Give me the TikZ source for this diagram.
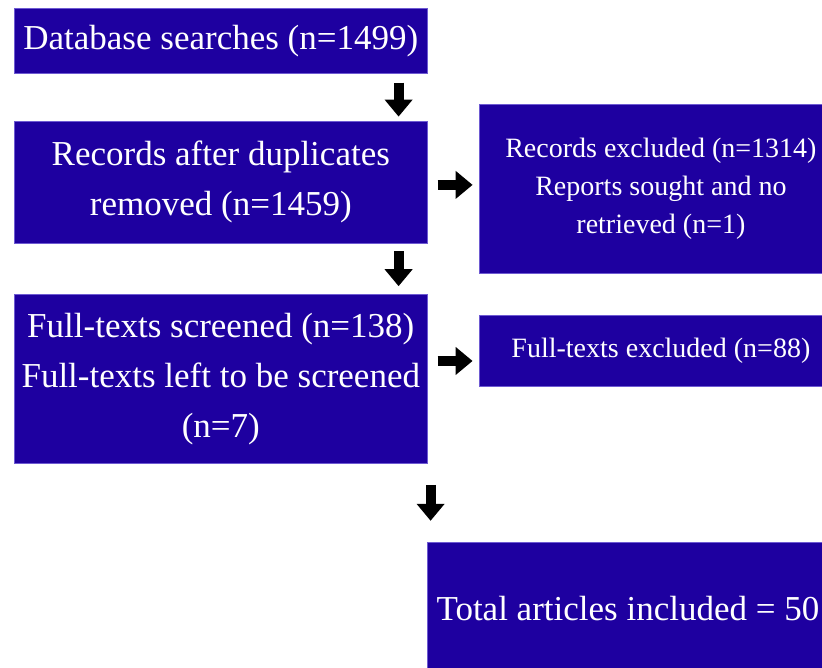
\documentclass[tikz,border=0pt]{standalone}
\usepackage{fontspec}
\setmainfont{Liberation Serif}
\usepackage{xcolor}
\usetikzlibrary{positioning,arrows.meta}

\definecolor{prismablue}{RGB}{30,0,160}
\definecolor{prismaedge}{RGB}{110,90,210}

\begin{document}
\begin{tikzpicture}[
    x=1pt, y=1pt,
    bigbox/.style={rectangle, fill=prismablue, draw=prismaedge, line width=0.6pt, text=white,
        minimum width=413pt, inner sep=0pt, align=center, font=\fontsize{35}{50}\selectfont},
    sidebox/.style={rectangle, fill=prismablue, draw=prismaedge, line width=0.6pt, text=white,
        minimum width=364pt, inner sep=0pt, align=center, font=\fontsize{28}{38}\selectfont},
    flow/.style={-{Triangle[length=17pt,width=27pt]}, line width=10pt, black}
]
    \useasboundingbox (0,0) rectangle (822,668);
    \clip (0,0) rectangle (822,668);

    \node[bigbox, minimum height=65pt, anchor=north west] (db) at (14,660) {Database searches (n=1499)};
    \node[bigbox, minimum height=122pt, below=47pt of db] (rec) {Records after duplicates\\removed (n=1459)};
    \node[bigbox, minimum height=169pt, below=51pt of rec] (full) {Full-texts screened (n=138)\\Full-texts left to be screened\\(n=7)};
    \node[sidebox, minimum height=169pt, right=51pt of rec, yshift=-6.5pt] (excl) {Records excluded (n=1314)\\Reports sought and no\\retrieved (n=1)};
    \node[sidebox, minimum height=71pt, right=51pt of full, yshift=28pt] (ftex) {Full-texts excluded (n=88)};
    \node[bigbox, minimum width=402pt, minimum height=132pt, below right=78pt and -1pt of full] (tot) {Total articles included = 50};

    \draw[flow, shorten <=9pt, shorten >=4pt] ([xshift=-29pt]db.south east) -- ([xshift=-29pt]rec.north east);
    \draw[flow, shorten <=10pt, shorten >=6pt] ([yshift=-3pt]rec.east) -- ([yshift=-3pt]rec.east -| excl.west);
    \draw[flow, shorten <=8pt, shorten >=8pt] ([xshift=-29pt]rec.south east) -- ([xshift=-29pt]full.north east);
    \draw[flow, shorten <=10pt, shorten >=6pt] ([yshift=-10pt]full.east |- ftex.west) -- ([yshift=-10pt]ftex.west);
    \draw[flow, shorten <=21pt, shorten >=21pt] ([xshift=4pt]tot.north west |- full.south) -- ([xshift=4pt]tot.north west);
\end{tikzpicture}
\end{document}
